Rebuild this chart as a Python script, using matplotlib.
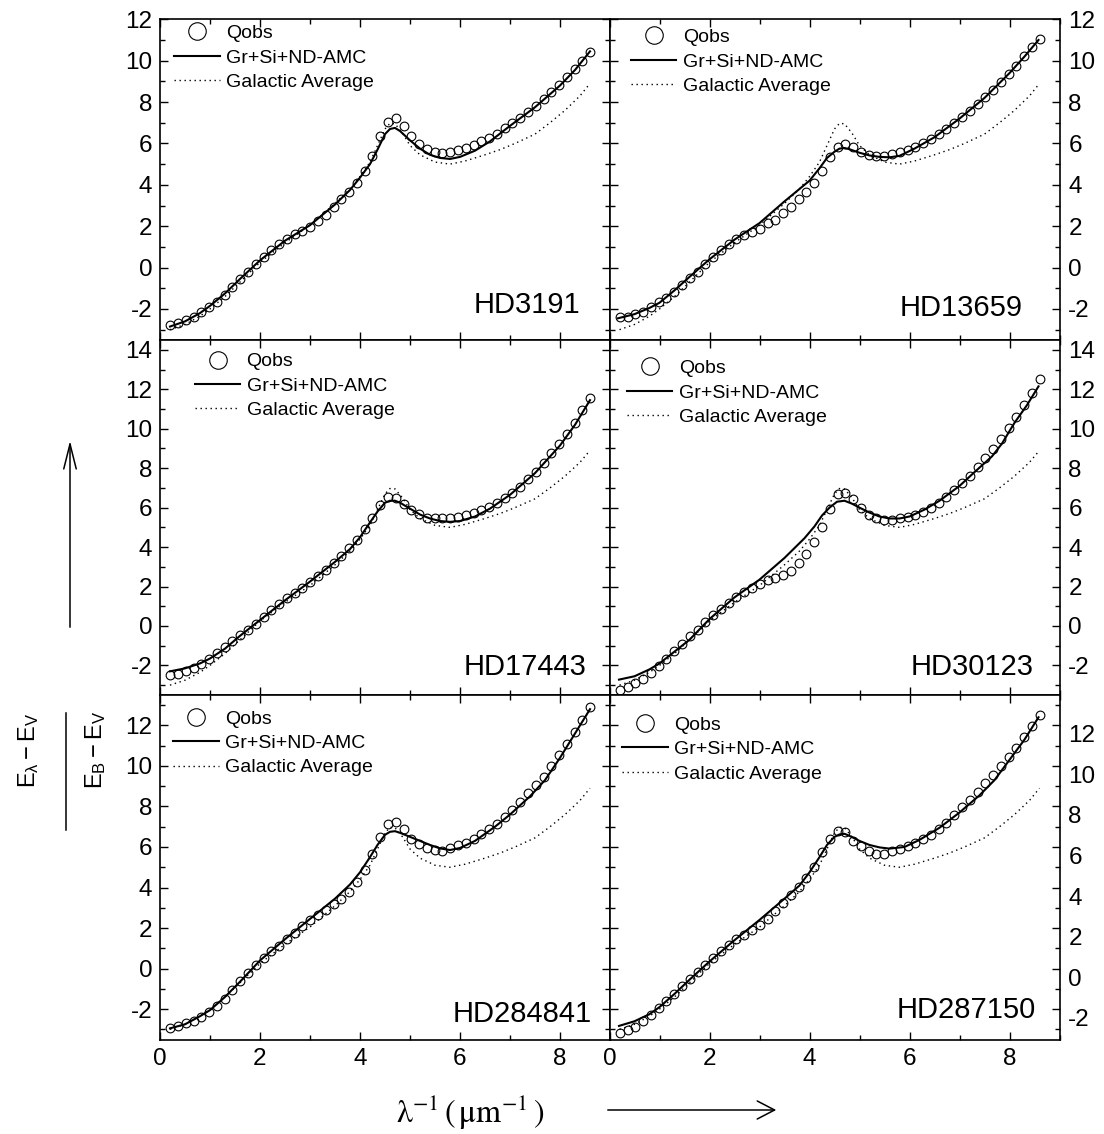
import numpy as np
import matplotlib
matplotlib.use('Agg')
import matplotlib.pyplot as plt
from matplotlib.lines import Line2D
from matplotlib.ticker import MultipleLocator
import matplotlib.transforms as mtrans

plt.rcParams['font.family'] = ['Liberation Sans', 'DejaVu Sans']
plt.rcParams['mathtext.fontset'] = 'custom'
plt.rcParams['mathtext.rm'] = 'Liberation Sans'
plt.rcParams['mathtext.it'] = 'Liberation Sans'
plt.rcParams['mathtext.bf'] = 'Liberation Sans:bold'
plt.rcParams['axes.unicode_minus'] = False

# ---------------- data ----------------
stars = ['HD3191', 'HD13659', 'HD17443', 'HD30123', 'HD284841', 'HD287150']

x_obs = [0.20, 0.36, 0.51, 0.67, 0.82, 0.98, 1.13, 1.29, 1.44, 1.60,
         1.76, 1.91, 2.07, 2.22, 2.38, 2.53, 2.69, 2.84, 3.00, 3.16,
         3.31, 3.47, 3.62, 3.78, 3.93, 4.09, 4.24, 4.40, 4.56, 4.71,
         4.87, 5.02, 5.18, 5.33, 5.49, 5.64, 5.80, 5.96, 6.11, 6.27,
         6.42, 6.58, 6.73, 6.89, 7.04, 7.20, 7.36, 7.51, 7.67, 7.82,
         7.98, 8.13, 8.29, 8.44, 8.60]

qobs_hd3191 = [-2.77, -2.66, -2.53, -2.37, -2.13, -1.92, -1.64, -1.32, -0.92, -0.56,
               -0.19, 0.16, 0.53, 0.86, 1.13, 1.37, 1.61, 1.78, 1.98, 2.23,
               2.55, 2.92, 3.31, 3.63, 4.08, 4.65, 5.40, 6.34, 7.06, 7.23,
               6.86, 6.37, 5.98, 5.73, 5.61, 5.56, 5.58, 5.66, 5.78, 5.94,
               6.10, 6.26, 6.45, 6.74, 6.98, 7.23, 7.52, 7.82, 8.15, 8.47,
               8.84, 9.21, 9.60, 10.00, 10.42]
qobs_hd13659 = [-2.40, -2.38, -2.26, -2.13, -1.89, -1.64, -1.45, -1.16, -0.84, -0.51,
                -0.19, 0.16, 0.53, 0.86, 1.13, 1.39, 1.58, 1.74, 1.87, 2.15,
                2.31, 2.66, 2.95, 3.32, 3.65, 4.11, 4.65, 5.34, 5.85, 5.98,
                5.85, 5.61, 5.45, 5.40, 5.40, 5.49, 5.61, 5.69, 5.85, 6.02,
                6.23, 6.47, 6.71, 6.98, 7.26, 7.55, 7.90, 8.24, 8.60, 8.95,
                9.37, 9.76, 10.21, 10.66, 11.05]
qobs_hd17443 = [-2.50, -2.42, -2.28, -2.13, -1.91, -1.66, -1.37, -1.07, -0.78, -0.47,
                -0.18, 0.12, 0.46, 0.80, 1.10, 1.42, 1.68, 1.93, 2.24, 2.52,
                2.86, 3.20, 3.54, 3.93, 4.35, 4.90, 5.50, 6.13, 6.52, 6.47,
                6.18, 5.88, 5.66, 5.50, 5.45, 5.49, 5.50, 5.54, 5.62, 5.74,
                5.88, 6.04, 6.25, 6.47, 6.75, 7.06, 7.43, 7.82, 8.25, 8.76,
                9.23, 9.74, 10.31, 10.95, 11.55]
qobs_hd30123 = [-3.23, -3.10, -2.89, -2.67, -2.39, -2.05, -1.66, -1.29, -0.89, -0.52,
                -0.18, 0.20, 0.54, 0.88, 1.17, 1.47, 1.73, 1.93, 2.12, 2.32,
                2.41, 2.57, 2.79, 3.17, 3.64, 4.24, 5.03, 5.93, 6.67, 6.76,
                6.42, 5.96, 5.62, 5.45, 5.37, 5.37, 5.45, 5.54, 5.62, 5.79,
                5.99, 6.25, 6.55, 6.89, 7.23, 7.62, 8.04, 8.50, 8.97, 9.47,
                10.03, 10.58, 11.21, 11.83, 12.51]
qobs_hd284841 = [-2.91, -2.83, -2.71, -2.58, -2.39, -2.14, -1.85, -1.49, -1.06, -0.62,
                 -0.21, 0.16, 0.52, 0.85, 1.13, 1.46, 1.78, 2.11, 2.40, 2.65,
                 2.89, 3.17, 3.42, 3.79, 4.28, 4.86, 5.67, 6.49, 7.11, 7.22,
                 6.90, 6.41, 6.13, 5.95, 5.84, 5.80, 5.95, 6.08, 6.21, 6.38,
                 6.65, 6.90, 7.15, 7.47, 7.83, 8.21, 8.65, 9.06, 9.47, 10.00,
                 10.54, 11.07, 11.67, 12.29, 12.90]
qobs_hd287150 = [-3.19, -3.02, -2.86, -2.58, -2.30, -1.96, -1.60, -1.24, -0.87, -0.51,
                 -0.16, 0.20, 0.52, 0.85, 1.18, 1.46, 1.67, 1.88, 2.16, 2.45,
                 2.84, 3.22, 3.63, 4.04, 4.45, 5.02, 5.75, 6.41, 6.78, 6.74,
                 6.29, 6.03, 5.79, 5.67, 5.67, 5.79, 5.92, 6.03, 6.19, 6.41,
                 6.61, 6.90, 7.18, 7.60, 7.96, 8.34, 8.73, 9.14, 9.55, 10.00,
                 10.45, 10.90, 11.43, 11.97, 12.49]

# Gr+Si+ND-AMC model curves
model_x_hd3191 = [0.2, 0.5, 0.8, 1.0, 1.3, 1.6, 2.0, 2.5, 3.0, 3.5, 3.8, 4.0, 4.2, 4.35, 4.5, 4.6,
                  4.7, 4.8, 5.0, 5.2, 5.4, 5.6, 5.8, 6.0, 6.3, 6.6, 7.0, 7.5, 8.0, 8.3, 8.6]
model_y_hd3191 = [-2.85, -2.6, -2.2, -1.85, -1.25, -0.55, 0.35, 1.3, 2.05, 3.05, 3.75, 4.35, 5.0, 5.7, 6.45, 6.7,
                  6.75, 6.6, 6.15, 5.75, 5.45, 5.3, 5.25, 5.35, 5.65, 6.1, 6.85, 7.75, 8.8, 9.55, 10.45]
model_x_hd13659 = [0.17, 0.5, 0.8, 1.0, 1.3, 1.6, 2.0, 2.5, 3.0, 3.5, 3.8, 4.0, 4.2, 4.35, 4.5, 4.6,
                   4.7, 4.8, 5.0, 5.2, 5.4, 5.6, 5.8, 6.1, 6.5, 7.0, 7.5, 8.0, 8.3, 8.58]
model_y_hd13659 = [-2.45, -2.25, -1.95, -1.7, -1.1, -0.45, 0.4, 1.35, 2.15, 3.2, 3.8, 4.2, 4.8, 5.3, 5.6, 5.75,
                   5.78, 5.72, 5.55, 5.42, 5.35, 5.33, 5.4, 5.75, 6.3, 7.2, 8.2, 9.4, 10.2, 11.0]
model_x_hd17443 = [0.2, 0.5, 0.8, 1.0, 1.3, 1.6, 2.0, 2.5, 3.0, 3.5, 3.8, 4.0, 4.2, 4.35, 4.5, 4.6,
                   4.7, 4.8, 5.0, 5.2, 5.4, 5.6, 5.8, 6.0, 6.3, 6.6, 7.0, 7.5, 8.0, 8.3, 8.6]
model_y_hd17443 = [-2.3, -2.15, -1.9, -1.65, -1.15, -0.5, 0.3, 1.3, 2.25, 3.25, 3.9, 4.5, 5.25, 5.8, 6.25, 6.35,
                   6.35, 6.25, 5.95, 5.65, 5.45, 5.32, 5.28, 5.32, 5.55, 5.95, 6.65, 7.75, 9.15, 10.2, 11.45]
model_x_hd30123 = [0.19, 0.5, 0.8, 1.0, 1.3, 1.6, 2.0, 2.5, 3.0, 3.5, 3.9, 4.1, 4.25, 4.4, 4.55, 4.7,
                   4.85, 5.0, 5.2, 5.4, 5.6, 5.8, 6.0, 6.3, 6.6, 7.0, 7.3, 7.65, 7.85, 8.1, 8.35, 8.58]
model_y_hd30123 = [-2.72, -2.55, -2.2, -1.9, -1.3, -0.7, 0.35, 1.45, 2.35, 3.45, 4.45, 5.05, 5.6, 6.0, 6.3, 6.35,
                   6.2, 6.0, 5.75, 5.55, 5.45, 5.45, 5.55, 5.9, 6.35, 7.1, 7.8, 8.6, 9.25, 10.3, 11.2, 12.15]
model_x_hd284841 = [0.2, 0.5, 0.8, 1.0, 1.3, 1.6, 2.0, 2.5, 3.0, 3.5, 3.8, 4.0, 4.2, 4.35, 4.5, 4.6,
                    4.7, 4.8, 5.0, 5.2, 5.4, 5.6, 5.8, 6.0, 6.3, 6.7, 7.0, 7.4, 7.7, 8.0, 8.3, 8.6]
model_y_hd284841 = [-2.95, -2.75, -2.35, -2.05, -1.4, -0.65, 0.4, 1.45, 2.45, 3.45, 4.15, 4.75, 5.5, 6.1, 6.6, 6.75,
                    6.78, 6.7, 6.5, 6.3, 6.1, 5.93, 5.85, 5.95, 6.3, 7.0, 7.6, 8.5, 9.3, 10.4, 11.6, 12.8]
model_x_hd287150 = [0.19, 0.5, 0.8, 1.0, 1.3, 1.6, 2.0, 2.5, 3.0, 3.5, 3.8, 4.0, 4.2, 4.35, 4.5, 4.6,
                    4.7, 4.8, 5.0, 5.2, 5.4, 5.6, 5.9, 6.2, 6.6, 7.0, 7.4, 7.7, 8.0, 8.3, 8.58]
model_y_hd287150 = [-2.83, -2.6, -2.25, -1.9, -1.25, -0.55, 0.35, 1.4, 2.4, 3.45, 4.1, 4.75, 5.5, 6.1, 6.5, 6.62,
                    6.65, 6.55, 6.3, 6.1, 5.98, 5.92, 6.0, 6.35, 6.95, 7.7, 8.55, 9.3, 10.3, 11.3, 12.4]

# Galactic average extinction curve (same in every panel)
gal_x = [0.2, 0.5, 0.8, 1.0, 1.3, 1.6, 2.0, 2.5, 3.0, 3.5, 3.8, 4.0, 4.2, 4.35, 4.5, 4.6,
         4.7, 4.85, 5.0, 5.2, 5.5, 5.8, 6.1, 6.5, 6.8, 7.1, 7.5, 7.8, 8.1, 8.4, 8.6]
gal_y = [-3.0, -2.75, -2.35, -2.0, -1.4, -0.7, 0.25, 1.2, 2.05, 3.1, 3.8, 4.4, 5.1, 5.9, 6.7, 6.97,
         6.95, 6.5, 5.9, 5.45, 5.1, 5.0, 5.15, 5.45, 5.7, 6.0, 6.45, 7.0, 7.6, 8.3, 8.9]

qobs = [qobs_hd3191, qobs_hd13659, qobs_hd17443, qobs_hd30123, qobs_hd284841, qobs_hd287150]
model_x = [model_x_hd3191, model_x_hd13659, model_x_hd17443, model_x_hd30123, model_x_hd284841, model_x_hd287150]
model_y = [model_y_hd3191, model_y_hd13659, model_y_hd17443, model_y_hd30123, model_y_hd284841, model_y_hd287150]

# ---------------- layout (pixels) ----------------
W, H = 1104, 1134
fig = plt.figure(figsize=(W / 100, H / 100), dpi=100)

col_left = [160, 609.5]
col_w = 450
row_top = [19.3, 340, 695]
row_bot = [340, 695, 1039.5]
ylims = [(-3.5, 12), (-3.5, 14.5), (-3.5, 13.5)]

# legend: (text-left px from axes left, first-row centre px below axes top)
leg_pos = [(66, 11.7), (73.3, 15.7), (86.7, 19.3), (69.3, 26), (65, 21.5), (64.7, 27.7)]
# star label: (px from right edge, centre px above bottom)
lab_pos = [(30, 35), (36.6, 31.7), (23.3, 28.3), (26, 28.3), (18.3, 26), (24, 29.5)]

for i in range(6):
    r, c = divmod(i, 2)
    left = col_left[c] / W
    bottom = 1 - row_bot[r] / H
    height = (row_bot[r] - row_top[r]) / H
    ax = fig.add_axes([left, bottom, col_w / W, height])

    ax.plot(x_obs, qobs[i], 'o', ms=6.3, mfc='none', mec='black', mew=0.8,
            label='Qobs', zorder=3)
    ax.plot(model_x[i], model_y[i], '-', color='black', lw=1.5,
            label='Gr+Si+ND-AMC', zorder=2)
    ax.plot(gal_x, gal_y, color='black', lw=1.0, ls=(0, (1, 2.6)),
            label='Galactic Average', zorder=1)

    ax.set_xlim(0, 9)
    ax.set_ylim(*ylims[r])
    ax.xaxis.set_major_locator(MultipleLocator(2))
    ax.xaxis.set_minor_locator(MultipleLocator(1))
    ax.yaxis.set_major_locator(MultipleLocator(2))
    ax.yaxis.set_minor_locator(MultipleLocator(1))
    for sp in ax.spines.values():
        sp.set_linewidth(1.2)
    ax.tick_params(which='both', direction='in', top=True, bottom=True,
                   left=True, right=True, width=1.0, labelsize=17.5)
    ax.tick_params(which='major', length=5.5)
    ax.tick_params(which='minor', length=3.3)
    ax.tick_params(axis='x', pad=6.0, labelbottom=(r == 2))
    if c == 0:
        ax.tick_params(axis='y', pad=5.6, labelleft=True, labelright=False)
    else:
        ax.tick_params(axis='y', pad=6.3, labelleft=False, labelright=True)

    if r == 2 and c == 1:
        fig.canvas.draw()
        off = mtrans.ScaledTranslation(0, -8.5 / 100, fig.dpi_scale_trans)
        for lab in ax.get_yticklabels(which='major'):
            lab.set_transform(lab.get_transform() + off)

    ah = row_bot[r] - row_top[r]
    tx, ty = leg_pos[i]
    leg = ax.legend(loc='upper left',
                    bbox_to_anchor=((tx - 52) / col_w, 1 - (ty - 6.5) / ah),
                    frameon=False, fontsize=14, handlelength=2.35,
                    handletextpad=0.32, labelspacing=0.35, borderpad=0,
                    borderaxespad=0, markerscale=2.0, numpoints=1)

    dx, dy = lab_pos[i]
    ax.annotate(stars[i], xy=(1, 0), xycoords='axes fraction',
                xytext=(-dx, dy), textcoords='offset pixels',
                ha='right', va='center', fontsize=21)

# ---------------- axis titles / arrows ----------------
def fy(p):
    return 1 - p / H

fig.text(29 / W, fy(750), r'$\mathrm{E_{\lambda}-E_{V}}$', rotation=90,
         ha='center', va='center', fontsize=17)
fig.text(96 / W, fy(750), r'$\mathrm{E_{B}-E_{V}}$', rotation=90,
         ha='center', va='center', fontsize=17)
fig.add_artist(Line2D([66 / W, 66 / W], [fy(712.7), fy(830)],
                      transform=fig.transFigure, color='black', lw=1.1))

fig.text(470 / W, fy(1112), r'$\mathrm{\lambda^{-1}\,(\,\mu m^{-1}\,)}$',
         ha='center', va='center', fontsize=23, math_fontfamily='stix')

fig.add_artist(matplotlib.patches.FancyArrowPatch(
    (70 / W, fy(630)), (70 / W, fy(438)), transform=fig.transFigure,
    arrowstyle='->,head_length=1.8,head_width=0.45', mutation_scale=10,
    color='black', lw=1.1))
fig.add_artist(matplotlib.patches.FancyArrowPatch(
    (605 / W, fy(1110)), (779 / W, fy(1110)), transform=fig.transFigure,
    arrowstyle='->,head_length=1.25,head_width=0.65', mutation_scale=10,
    color='black', lw=1.1))

fig.savefig('out.png', dpi=100)
